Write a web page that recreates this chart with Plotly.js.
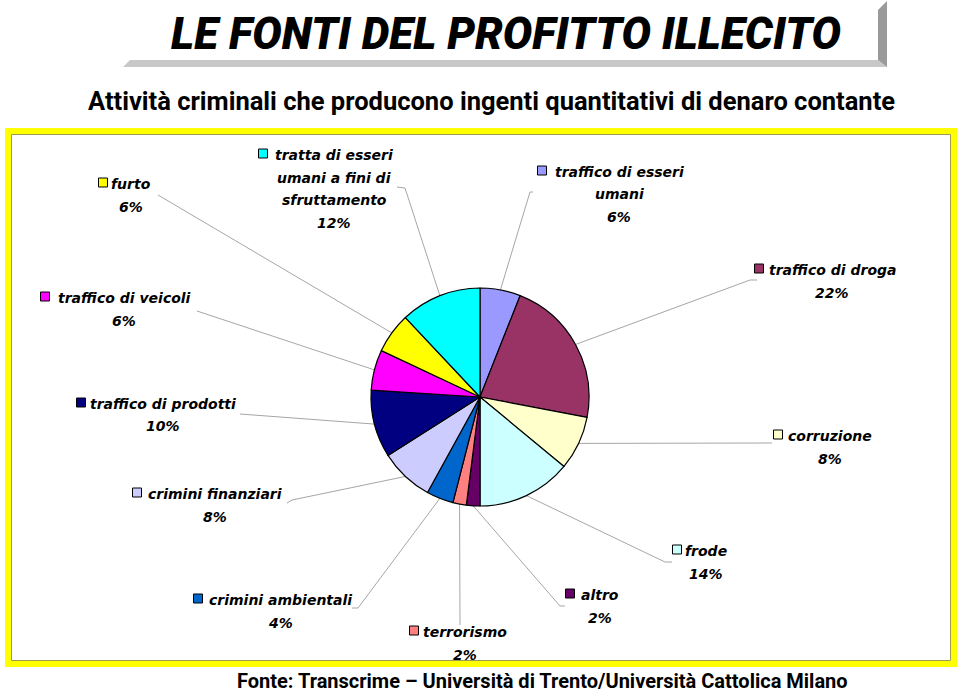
<!DOCTYPE html>
<html>
<head>
<meta charset="utf-8">
<script src="https://cdn.plot.ly/plotly-3.0.1.min.js"></script>
<style>html,body{margin:0;padding:0;background:#fff;}#chart{width:960px;height:694px;}</style>
</head>
<body>
<div id="chart"></div>
<script>
// ---- data ----
const names = ["traffico di esseri umani","traffico di droga","corruzione","frode","altro","terrorismo","crimini ambientali","crimini finanziari","traffico di prodotti","traffico di veicoli","furto","tratta di esseri umani a fini di sfruttamento"];
const values = [6,22,8,14,2,2,4,8,10,6,6,12];
const colors = ["#9999FF","#993366","#FFFFCC","#CCFFFF","#660066","#FF8080","#0066CC","#CCCCFF","#000080","#FF00FF","#FFFF00","#00FFFF"];
const nameLines = [["traffico di esseri","umani"],["traffico di droga"],["corruzione"],["frode"],["altro"],["terrorismo"],["crimini ambientali"],["crimini finanziari"],["traffico di prodotti"],["traffico di veicoli"],["furto"],["tratta di esseri","umani a fini di","sfruttamento"]];
const titleText = "LE FONTI DEL PROFITTO ILLECITO";
const subtitleText = "Attività criminali che producono ingenti quantitativi di denaro contante";
const sourceText = "Fonte: Transcrime – Università di Trento/Università Cattolica Milano";

// ---- layout (pixel positions) ----
const W = 960, H = 694;
const PIE = {cx: 480, cy: 397, r: 109};
const labelPos = [
  {cx: 619, y: 172, sq: 542, pts: [[533,192],[530,192]]},
  {cx: 832, y: 270, sq: 759, pts: [[757,280],[750,280]]},
  {cx: 830, y: 436, sq: 778, pts: [[772,443]]},
  {cx: 706, y: 551, sq: 677, pts: [[672,562],[665,562]]},
  {cx: 600, y: 595, sq: 570, pts: [[565,606],[560,606]]},
  {cx: 465, y: 632, sq: 414, pts: [[460,625]]},
  {cx: 280, y: 600, sq: 198, pts: [[352,608],[358,608]]},
  {cx: 215, y: 494, sq: 137, pts: [[287,503],[292,500]]},
  {cx: 163, y: 404, sq: 81,  pts: [[240,414]]},
  {cx: 124, y: 298, sq: 45,  pts: [[197,311]]},
  {cx: 131, y: 184, sq: 103, pts: [[158,195]]},
  {cx: 334, y: 155, sq: 263, pts: [[397,187],[405,188]]}
];
const LINE_H = 22.5;

const px = x => x / W;
const py = y => 1 - y / H;

const labelFont = {family: "DejaVu Sans", size: 14, color: "#000", weight: "bold", style: "italic"};

const shapes = [];
const annotations = [];

// title bevel box
shapes.push({type: "path", xref: "paper", yref: "paper",
  path: `M${px(130)},${py(60)} L${px(878)},${py(60)} L${px(887)},${py(67)} L${px(123)},${py(67)} Z`,
  fillcolor: "#C8C8C8", line: {width: 0}});
shapes.push({type: "path", xref: "paper", yref: "paper",
  path: `M${px(878)},${py(10)} L${px(887)},${py(1)} L${px(887)},${py(67)} L${px(878)},${py(60)} Z`,
  fillcolor: "#9A9A9A", line: {width: 0}});

// yellow frame
shapes.push({type: "rect", xref: "paper", yref: "paper",
  x0: px(8), x1: px(954), y0: py(664), y1: py(131),
  line: {color: "#FFFF00", width: 6}, fillcolor: "rgba(0,0,0,0)"});
shapes.push({type: "rect", xref: "paper", yref: "paper",
  x0: px(11.5), x1: px(950.5), y0: py(660.5), y1: py(134.5),
  line: {color: "#9C9C50", width: 1}, fillcolor: "rgba(0,0,0,0)"});

// leader lines, squares, labels
const total = values.reduce((a, b) => a + b, 0);
let cum = 0;
values.forEach((v, i) => {
  const theta = (cum + v / 2) / total * 2 * Math.PI;
  cum += v;
  const ex = PIE.cx + PIE.r * Math.sin(theta);
  const ey = PIE.cy - PIE.r * Math.cos(theta);
  const lp = labelPos[i];
  const pts = lp.pts.concat([[ex, ey]]);
  let d = "";
  pts.forEach((p, k) => { d += (k ? " L" : "M") + px(p[0]) + "," + py(p[1]); });
  shapes.push({type: "path", xref: "paper", yref: "paper", path: d,
    line: {color: "#A6A6A6", width: 1}, layer: "below"});

  shapes.push({type: "rect", xref: "paper", yref: "paper",
    x0: px(lp.sq - 4.5), x1: px(lp.sq + 4.5), y0: py(lp.y + 3), y1: py(lp.y - 6),
    fillcolor: colors[i], line: {color: "#000", width: 1}});

  const lines = nameLines[i].concat([v + "%"]);
  lines.forEach((t, k) => {
    annotations.push({xref: "paper", yref: "paper", x: px(lp.cx), y: py(lp.y + k * LINE_H),
      xanchor: "center", yanchor: "middle", showarrow: false, text: t, font: labelFont});
  });
});

// titles
annotations.push({xref: "paper", yref: "paper", x: px(506), y: py(34), xanchor: "center", yanchor: "middle",
  showarrow: false, text: titleText,
  font: {family: "Roboto", size: 44, color: "#000", weight: 900, style: "italic"}});
annotations.push({xref: "paper", yref: "paper", x: px(492), y: py(101), xanchor: "center", yanchor: "middle",
  showarrow: false, text: subtitleText,
  font: {family: "Roboto", size: 25.5, color: "#000", weight: "bold"}});
annotations.push({xref: "paper", yref: "paper", x: px(542), y: py(694), xanchor: "center", yanchor: "bottom",
  showarrow: false, text: sourceText, borderpad: 0,
  font: {family: "Roboto", size: 20, color: "#000", weight: "bold"}});

const trace = {
  type: "pie",
  labels: names,
  values: values,
  sort: false,
  direction: "clockwise",
  rotation: 0,
  textinfo: "none",
  hoverinfo: "label+percent",
  marker: {colors: colors, line: {color: "#000", width: 1.2}},
  domain: {x: [px(PIE.cx - PIE.r), px(PIE.cx + PIE.r)], y: [py(PIE.cy + PIE.r), py(PIE.cy - PIE.r)]},
  showlegend: false
};

const layout = {
  width: W, height: H,
  margin: {l: 0, r: 0, t: 0, b: 0},
  paper_bgcolor: "#fff",
  plot_bgcolor: "#fff",
  showlegend: false,
  shapes: shapes,
  annotations: annotations
};

Plotly.newPlot("chart", [trace], layout, {displayModeBar: false, staticPlot: true});
</script>
</body>
</html>
